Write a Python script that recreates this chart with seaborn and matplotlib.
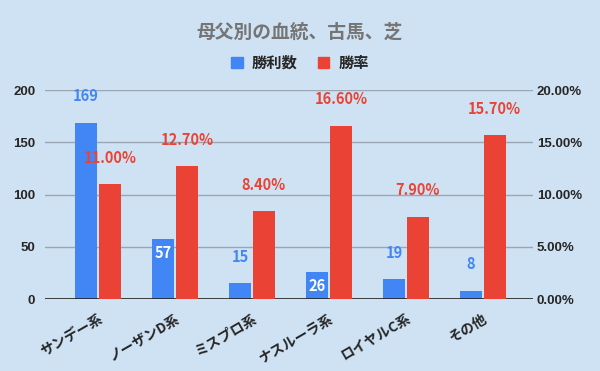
import matplotlib
matplotlib.use('Agg')
import matplotlib.pyplot as plt
import seaborn as sns
import numpy as np
import pandas as pd

categories = ["サンデー系", "ノーザンD系", "ミスプロ系", "ナスルーラ系", "ロイヤルC系", "その他"]
wins = [169, 57, 15, 26, 19, 8]
win_rate = [11.0, 12.7, 8.4, 16.6, 7.9, 15.7]
series = ["勝利数", "勝率"]
colors = ["#4285f4", "#ea4335"]
inside_label = [False, True, False, True, False, False]

sns.set_theme(style="white")
plt.rcParams["font.family"] = ["Noto Sans CJK JP", "DejaVu Sans"]
tick_font = ["Liberation Sans", "Noto Sans CJK JP"]

bg = "#cfe2f3"

rows = []
for c, w, r in zip(categories, wins, win_rate):
    rows.append({"系統": c, "系列": series[0], "left": w, "right": np.nan})
    rows.append({"系統": c, "系列": series[1], "left": np.nan, "right": r})
df = pd.DataFrame(rows)

fig = plt.figure(figsize=(6, 3.71), dpi=100, facecolor=bg)
ax = fig.add_axes([0.075, 0.194, 0.813, 0.563])
ax.set_facecolor(bg)
ax2 = ax.twinx()

sns.barplot(data=df, x="系統", y="left", hue="系列", hue_order=series,
            palette=colors, width=0.62, gap=0.06, errorbar=None, linewidth=0,
            ax=ax, legend=False, saturation=1)
sns.barplot(data=df, x="系統", y="right", hue="系列", hue_order=series,
            palette=colors, width=0.62, gap=0.06, errorbar=None, linewidth=0,
            ax=ax2, legend=False, saturation=1)

ax.set_ylim(0, 200)
ax2.set_ylim(0, 20)
ax.set_xlim(-0.69, 5.65)
ax.set_yticks([0, 50, 100, 150, 200])
ax2.set_yticks([0, 5, 10, 15, 20])
ax2.set_yticklabels([f"{v:.2f}%" for v in [0, 5, 10, 15, 20]])
ax.grid(axis="y", color="#9aa6b3", linewidth=1)
ax.set_axisbelow(True)
for a in (ax, ax2):
    for s in ["top", "left", "right", "bottom"]:
        a.spines[s].set_visible(False)
    a.set_xlabel("")
    a.set_ylabel("")
    a.tick_params(length=0)
ax.axhline(0, color="#222222", linewidth=1.2, zorder=5)
ax.tick_params(axis="y", pad=7, labelsize=9.5)
ax2.tick_params(axis="y", pad=3, labelsize=9.5)
for t in ax.get_yticklabels() + ax2.get_yticklabels():
    t.set_fontweight("bold")
    t.set_family(tick_font)

ax.set_xticks(range(len(categories)))
ax.set_xticklabels(categories, rotation=30, ha="right", rotation_mode="anchor",
                   fontsize=10, fontweight="bold")
ax.tick_params(axis="x", pad=9)

# value labels
for p, v, inside in zip([b for b in ax.patches if b.get_height() > 0], wins, inside_label):
    x = p.get_x() + p.get_width() / 2
    if inside:
        ax.annotate(str(v), (x, v), xytext=(0, -10), textcoords="offset points",
                    ha="center", va="center", color="white", fontsize=10.5,
                    fontweight="bold")
    else:
        ax.annotate(str(v), (x, v), xytext=(0, 19), textcoords="offset points",
                    ha="center", va="center", color=colors[0], fontsize=10.5,
                    fontweight="bold")
for p, v in zip([b for b in ax2.patches if b.get_height() > 0], win_rate):
    x = p.get_x() + p.get_width() / 2
    ax2.annotate(f"{v:.2f}%", (x, v), xytext=(0, 19), textcoords="offset points",
                 ha="center", va="center", color=colors[1], fontsize=10.5,
                 fontweight="bold")

fig.text(0.5, 0.912, "母父別の血統、古馬、芝", ha="center", va="center",
         fontsize=13.5, fontweight="bold", color="#757575")

handles = [plt.Rectangle((0, 0), 1, 1, color=c) for c in colors]
fig.legend(handles, series, loc="center", bbox_to_anchor=(0.5, 0.83), ncol=2,
           frameon=False, prop={"weight": "bold", "size": 11},
           handlelength=0.75, handleheight=0.75, columnspacing=1.3, handletextpad=0.6)

fig.savefig("out.png", dpi=100, facecolor=bg)
